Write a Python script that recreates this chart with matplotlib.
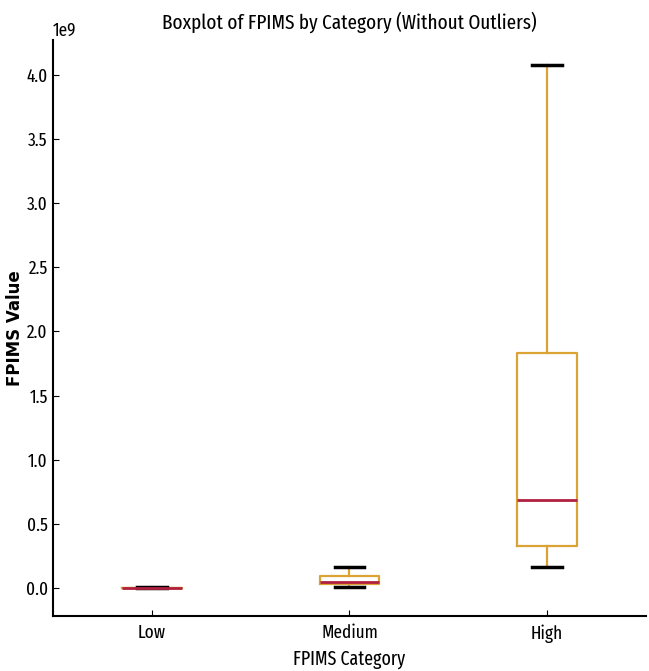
import matplotlib
matplotlib.use("Agg")
import matplotlib.pyplot as plt

categories = ["Low", "Medium", "High"]
whislo = [0.0, 0.005e9, 0.165e9]
q1 = [0.0005e9, 0.028e9, 0.33e9]
med = [0.001e9, 0.05e9, 0.69e9]
q3 = [0.002e9, 0.092e9, 1.83e9]
whishi = [0.008e9, 0.167e9, 4.08e9]

plt.rcParams['font.family'] = ['Fira Sans Extra Condensed', 'DejaVu Sans']

fig = plt.figure(figsize=(6.49, 6.71), dpi=100)
ax = fig.add_axes([0.082, 0.082, 0.913, 0.858])

stats = []
for i, c in enumerate(categories):
    stats.append(dict(label=c, whislo=whislo[i], q1=q1[i], med=med[i], q3=q3[i],
                      whishi=whishi[i], fliers=[]))

box_c = "#DBA234"
ax.bxp(stats, positions=[1, 2, 3], widths=0.3, showfliers=False,
       boxprops=dict(color=box_c, linewidth=1.6),
       whiskerprops=dict(color=box_c, linewidth=1.6),
       capprops=dict(color="black", linewidth=2.5),
       medianprops=dict(color="#B0203F", linewidth=2))

ax.set_xlim(0.5, 3.5)
ax.set_ylim(-0.218e9, 4.27e9)
ax.spines['top'].set_visible(False)
ax.spines['right'].set_visible(False)
ax.spines['left'].set_linewidth(1.5)
ax.spines['bottom'].set_linewidth(1.5)
ax.tick_params(direction='in', length=4, labelsize=13.5, pad=4)
ax.tick_params(axis='x', pad=6)
ax.yaxis.get_offset_text().set_fontsize(13.5)
ax.set_title("Boxplot of FPIMS by Category (Without Outliers)", fontsize=15, pad=8)
ax.set_xlabel("FPIMS Category", fontsize=14, labelpad=5)
ax.set_ylabel("FPIMS Value", fontsize=12, fontweight='bold', family='DejaVu Sans')
ax.yaxis.set_label_coords(-0.049, 0.5)

fig.savefig("out.png", dpi=100)
